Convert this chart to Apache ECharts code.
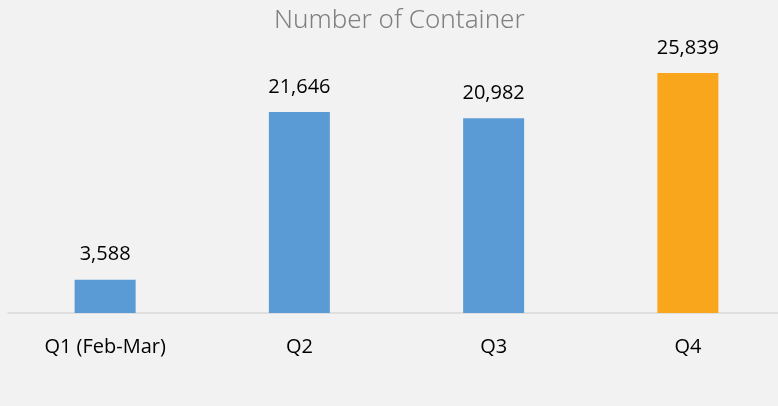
<!DOCTYPE html>
<html>
<head>
<meta charset="utf-8">
<script src="https://cdn.jsdelivr.net/npm/echarts@6/dist/echarts.min.js"></script>
<style>
  html, body { margin: 0; padding: 0; background: #f2f2f2; }
  #chart { width: 778px; height: 406px; }
</style>
</head>
<body>
<div id="chart"></div>
<script>
// 数据
var categories = ['Q1 (Feb-Mar)', 'Q2', 'Q3', 'Q4']
var containers = [3588, 21646, 20982, 25839]
var barColors = ['#5b9bd5', '#5b9bd5', '#5b9bd5', '#f9a61c']

var echart = echarts.init(document.getElementById('chart'))
echart.setOption({
  backgroundColor: '#f2f2f2',
  animation: false,
  title: {
    text: 'Number of Container',
    left: 269,
    top: 3,
    textStyle: {
      color: '#808080',
      fontFamily: 'Noto Sans',
      fontWeight: 300,
      fontSize: 26
    }
  },
  // 图表区域，右侧超出画布
  grid: {
    left: 8,
    width: 777,
    top: 34.4,
    bottom: 93,
    outerBoundsMode: 'none'
  },
  // x轴线
  xAxis: {
    type: 'category',
    data: categories,
    axisLine: { lineStyle: { color: '#d9d9d9', width: 1.5 } },
    axisTick: { show: false },
    axisLabel: {
      color: '#000',
      fontFamily: 'Open Sans',
      fontSize: 20,
      margin: 24
    }
  },
  yAxis: {
    type: 'value',
    min: 0,
    max: 30000,
    show: false,
    splitLine: { show: false }
  },
  series: [{
    type: 'bar',
    barWidth: 61,
    data: containers.map(function (v, i) {
      return { value: v, itemStyle: { color: barColors[i] } }
    }),
    label: {
      show: true,
      position: 'top',
      distance: 15,
      color: '#000',
      fontFamily: 'Open Sans',
      fontSize: 20,
      formatter: function (p) { return p.value.toLocaleString('en-US') }
    }
  }]
})
</script>
</body>
</html>
